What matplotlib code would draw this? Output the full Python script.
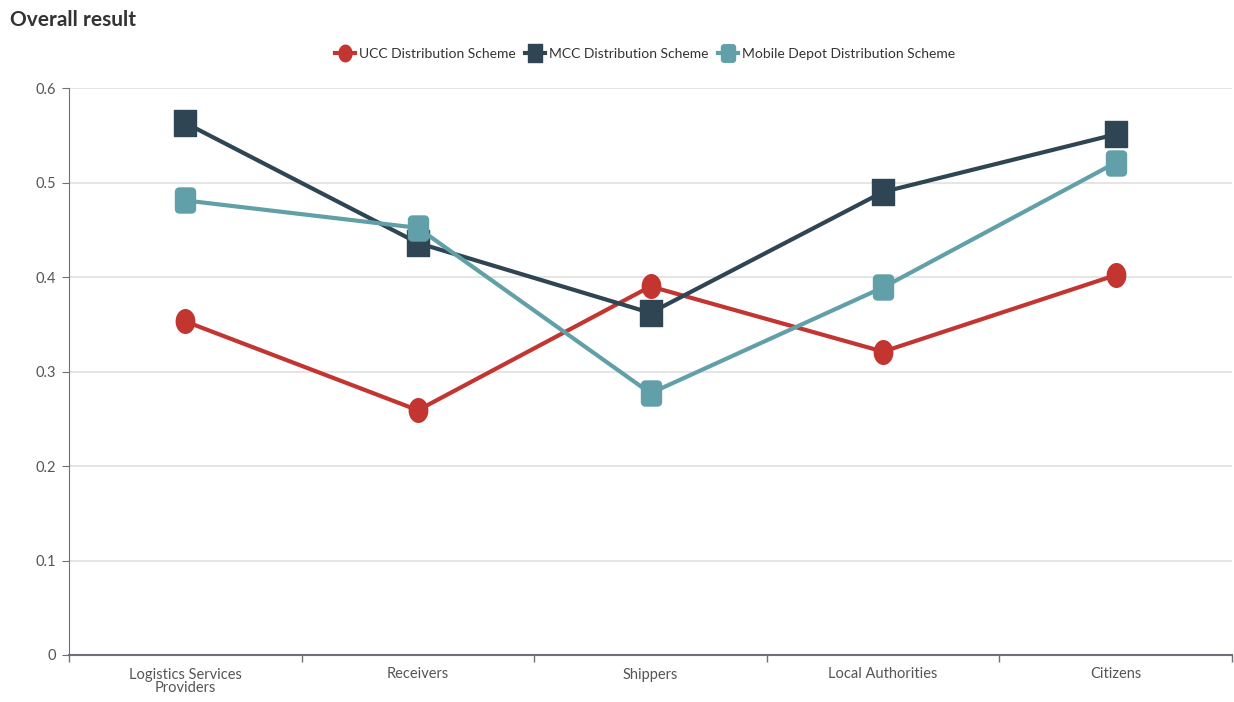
import matplotlib
matplotlib.use("Agg")
import matplotlib.pyplot as plt
import numpy as np
from matplotlib.path import Path
from matplotlib.ticker import FixedLocator, NullFormatter, FixedFormatter

plt.rcParams['font.family'] = ['Lato', 'DejaVu Sans']

categories = ["Logistics Services\nProviders", "Receivers", "Shippers", "Local Authorities", "Citizens"]
ucc = [0.353, 0.259, 0.390, 0.321, 0.402]
mcc = [0.563, 0.436, 0.362, 0.490, 0.551]
mobile = [0.481, 0.452, 0.277, 0.389, 0.521]
series_names = ["UCC Distribution Scheme", "MCC Distribution Scheme", "Mobile Depot Distribution Scheme"]
yticks = [0, 0.1, 0.2, 0.3, 0.4, 0.5, 0.6]

colors = ["#c23531", "#2f4554", "#61a0a8"]

# ellipse marker (taller than wide)
t = np.linspace(0, 2 * np.pi, 40)
ellipse = Path(np.column_stack([0.78 * np.cos(t), np.sin(t)]), closed=True)
rect = Path([(-0.8, -1), (0.8, -1), (0.8, 1), (-0.8, 1), (-0.8, -1)], closed=True)
# rounded rect
r = 0.3
pts = []
for cx, cy, a0 in [(0.8 - r, 1 - r, 0), (-0.8 + r, 1 - r, 90), (-0.8 + r, -1 + r, 180), (0.8 - r, -1 + r, 270)]:
    for a in np.linspace(np.radians(a0), np.radians(a0 + 90), 6):
        pts.append((cx + r * np.cos(a), cy + r * np.sin(a)))
pts.append(pts[0])
rrect = Path(pts, closed=True)

fig = plt.figure(figsize=(12.34, 7.02), dpi=100)
ax = fig.add_axes([69 / 1234, 1 - 655 / 702, (1232 - 69) / 1234, (655 - 88) / 702])

x = np.arange(len(categories))
markers = [ellipse, rect, rrect]
sizes = [17, 19, 18]
for vals, name, c, m, s in zip([ucc, mcc, mobile], series_names, colors, markers, sizes):
    ax.plot(x, vals, color=c, lw=3, marker=m, markersize=s, markerfacecolor=c,
            markeredgecolor=c, label=name, solid_joinstyle='round', zorder=3)

ax.set_xlim(-0.5, len(categories) - 0.5)
ax.set_ylim(0, 0.6)
ax.set_yticks(yticks)
ax.set_yticklabels([f"{v:g}" for v in yticks])
ax.yaxis.grid(True, color="#e0e0e0", lw=1.2)
ax.set_axisbelow(True)

ax.xaxis.set_major_locator(FixedLocator(np.arange(-0.5, len(categories), 1.0)))
ax.xaxis.set_major_formatter(NullFormatter())
ax.xaxis.set_minor_locator(FixedLocator(x))
ax.xaxis.set_minor_formatter(FixedFormatter(categories))
ax.tick_params(axis='x', which='major', length=5, color="#6e7079", width=1)
ax.tick_params(axis='x', which='minor', length=0, pad=9, labelsize=10.5, labelcolor="#555555")
ax.tick_params(axis='y', length=5, color="#6e7079", labelsize=10.5, labelcolor="#555555", pad=4)
for lbl in ax.xaxis.get_minorticklabels():
    lbl.set_linespacing(0.95)

for sp in ["top", "right"]:
    ax.spines[sp].set_visible(False)
ax.spines["left"].set_color("#6e7079")
ax.spines["bottom"].set_color("#6e7079")
ax.spines["bottom"].set_linewidth(1.5)

fig.text(10 / 1234, 1 - 20 / 702, "Overall result", fontsize=15, fontweight="bold",
         color="#333333", va="center", ha="left")

leg = fig.legend(loc="center", bbox_to_anchor=(645 / 1234, 1 - 54 / 702), ncol=3,
                 frameon=False, fontsize=10, handlelength=1.4, handletextpad=0.3,
                 columnspacing=0.7, markerscale=0.7)
for txt in leg.get_texts():
    txt.set_color("#333333")

fig.savefig("out.png", dpi=100)
